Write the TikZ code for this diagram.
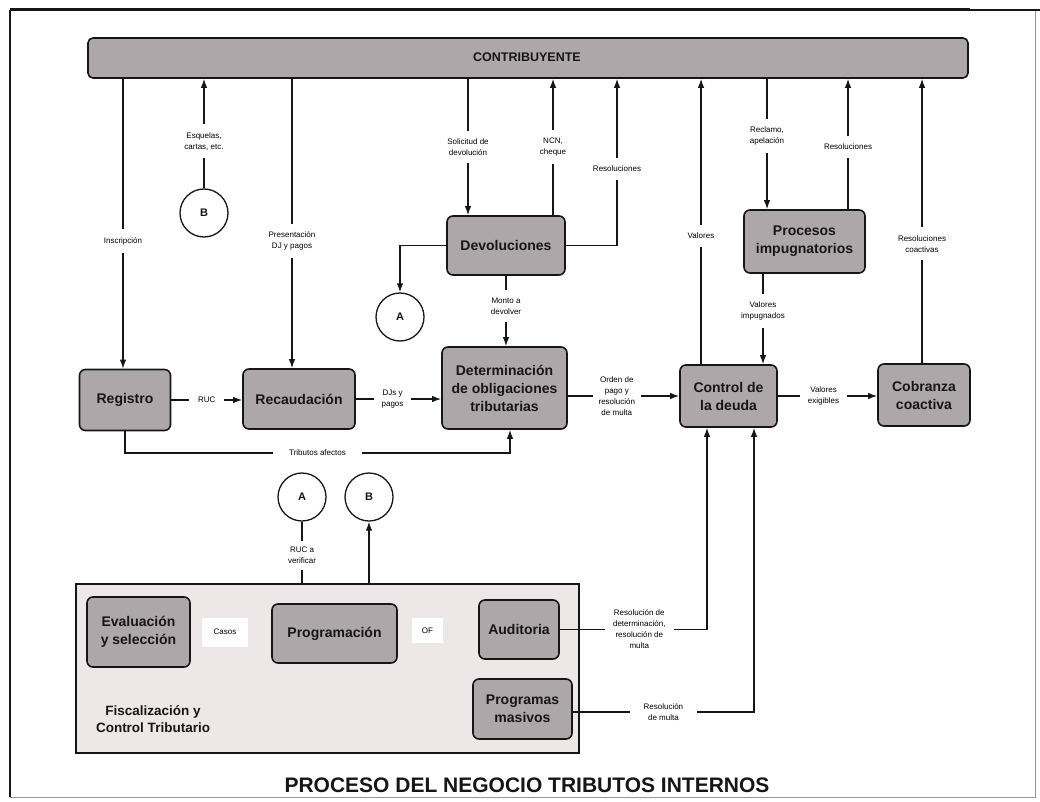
\documentclass[tikz,border=0pt]{standalone}
\usepackage{fontspec}
\setmainfont{Liberation Sans}
\usetikzlibrary{arrows.meta,calc}
\definecolor{boxgray}{RGB}{174,167,170}
\definecolor{fiscbg}{RGB}{238,231,232}
\definecolor{ink}{RGB}{22,22,22}
\definecolor{framegray}{RGB}{150,150,150}
\begin{document}
\begin{tikzpicture}[x=1pt,y=-1pt,
  box/.style={draw=ink, line width=1.6pt, rounded corners=6pt, fill=boxgray, inner sep=0pt, align=center, font=\fontsize{14}{18}\selectfont\bfseries, text=ink},
  conn/.style={draw=ink, line width=1.3pt},
  arr/.style={conn, -{Latex[length=9pt,width=6.5pt]}},
  lbl/.style={fill=white, inner xsep=1pt, inner ysep=8pt, align=center, font=\fontsize{8}{11}\selectfont, text=black},
  lblh/.style={fill=white, inner xsep=10pt, inner ysep=1pt, align=center, font=\fontsize{8}{11}\selectfont, text=black},
  circ/.style={circle, draw=ink, line width=1.3pt, minimum size=48pt, inner sep=0pt, font=\fontsize{11}{13}\selectfont\bfseries, fill=white, text=ink},
  tag/.style={fill=white, inner sep=0pt, font=\fontsize{8}{10}\selectfont, text=black},
]
\useasboundingbox (0,0) rectangle (1040,802);
% frame
\draw[framegray, line width=1pt] (1035,10) -- (1035,797) -- (10,797);
\draw[ink, line width=1.3pt] (10,10) -- (10,797);
\draw[ink, line width=3pt] (10,10) -- (970,10);
\draw[ink, line width=1.5pt] (970,10) -- (1040,10);

% contribuyente bar
\node[box, minimum width=880pt, minimum height=40pt, rounded corners=5pt] (bar) at (528,58) {};
\node[font=\fontsize{12.5}{14}\selectfont\bfseries, text=ink] (bartxt) at (527,57) {CONTRIBUYENTE};

% fiscalizacion container
\node[draw=ink, line width=1.3pt, fill=fiscbg, minimum width=503pt, minimum height=169pt, inner sep=0pt] (fisc) at (327.5,668.5) {};
\node[font=\fontsize{13.5}{17}\selectfont\bfseries, align=center, text=ink] (fisclbl) at (153,719) {Fiscalización y\\Control Tributario};

% main boxes
\node[box, minimum width=91pt, minimum height=61pt] (reg) at (125,400) {Registro};
\node[box, minimum width=112pt, minimum height=60pt] (rec) at (299,399) {Recaudación};
\node[box, minimum width=125pt, minimum height=82pt] (det) at (504.5,388) {Determinación\\de obligaciones\\tributarias};
\node[box, minimum width=118pt, minimum height=59pt] (dev) at (506,245.5) {Devoluciones};
\node[box, minimum width=97pt, minimum height=62pt] (ctl) at (728.5,396) {Control de\\la deuda};
\node[box, minimum width=92pt, minimum height=62pt] (cob) at (924,395) {Cobranza\\coactiva};
\node[box, minimum width=121pt, minimum height=63pt] (proc) at (804.5,241.5) {Procesos\\impugnatorios};

% fiscalizacion inner boxes
\node[box, minimum width=103pt, minimum height=70pt] (eva) at (138.5,632) {Evaluación\\y selección};
\node[box, minimum width=125pt, minimum height=59pt] (prog) at (334.5,633.5) {Programación};
\node[box, minimum width=80pt, minimum height=59pt] (aud) at (519,629.5) {Auditoria};
\node[box, minimum width=99pt, minimum height=60pt] (pm) at (522.5,709) {Programas\\masivos};
\node[tag, minimum width=46pt, minimum height=29pt] (casos) at (225,632) {Casos};
\node[tag, minimum width=31pt, minimum height=25pt] (of) at (427.5,630.5) {OF};

% connectors
\node[circ] (Bt) at (204,213) {B};
\node[circ] (At) at (400,317) {A};
\node[circ] (Ab) at (302,497) {A};
\node[circ] (Bb) at (369,497) {B};

% title
\node[font=\fontsize{21}{24}\selectfont\bfseries, text=ink] (title) at (527,785) {PROCESO DEL NEGOCIO TRIBUTOS INTERNOS};

% flows with contribuyente
\draw[arr] ([xshift=-2pt]reg.north |- bar.south) -- node[lbl,pos=0.56]{Inscripción} ([xshift=-2pt]reg.north);
\draw[arr] (Bt.north) -- node[lbl,pos=0.43]{Esquelas,\\cartas, etc.} (Bt.north |- bar.south);
\draw[arr] ([xshift=-7pt]rec.north |- bar.south) -- node[lbl,pos=0.56]{Presentación\\DJ y pagos} ([xshift=-7pt]rec.north);
\draw[arr] ([xshift=-38pt]dev.north |- bar.south) -- node[lbl,pos=0.5]{Solicitud de\\devolución} ([xshift=-38pt]dev.north);
\draw[arr] ([xshift=47pt]dev.north) -- node[lbl,pos=0.5]{NCN,\\cheque} ([xshift=47pt]dev.north |- bar.south);
\draw[arr] (dev.east) -| node[lbl,pos=0.73]{Resoluciones} (617,0 |- bar.south);
\draw[arr] (dev.west) -| (At.north);
\draw[arr] (dev.south) -- node[lbl,pos=0.43]{Monto a\\devolver} (dev.south |- det.north);
\draw[arr] ([xshift=-27.5pt]ctl.north) -- node[lbl,pos=0.45]{Valores} ([xshift=-27.5pt]ctl.north |- bar.south);
\draw[arr] ([xshift=-37.5pt]proc.north |- bar.south) -- node[lbl,pos=0.44]{Reclamo,\\apelación} ([xshift=-37.5pt]proc.north);
\draw[arr] ([xshift=43.5pt]proc.north) -- node[lbl,pos=0.48]{Resoluciones} ([xshift=43.5pt]proc.north |- bar.south);
\draw[arr] ([xshift=-41.5pt]proc.south) -- node[lbl,pos=0.41]{Valores\\impugnados} ([xshift=-41.5pt]proc.south |- ctl.north);
\draw[arr] ([xshift=-2pt]cob.north) -- node[lbl,pos=0.42]{Resoluciones\\coactivas} ([xshift=-2pt]cob.north |- bar.south);

% main row
\draw[arr] (reg.east) -- node[lblh,inner xsep=9pt]{RUC} (rec.west |- reg.east);
\draw[arr] (rec.east) -- node[lblh,pos=0.43,inner xsep=8pt]{DJs y\\pagos} (det.west |- rec.east);
\draw[arr] (reg.south) -- (reg.south |- 0,453) -| node[lblh,pos=0.25,inner xsep=16pt]{Tributos afectos} ([xshift=5.5pt]det.south);
\draw[arr] (det.east |- ctl.west) -- node[lblh,pos=0.44,inner xsep=6pt]{Orden de\\pago y\\resolución\\de multa} (ctl.west);
\draw[arr] (ctl.east) -- node[lblh,pos=0.46,inner xsep=8pt]{Valores\\exigibles} (cob.west |- ctl.east);

% fiscalizacion links
\draw[conn] (Ab.south |- fisc.north) -- node[lbl,pos=0.45,inner ysep=6pt]{RUC a\\verificar} (Ab.south);
\draw[arr] (Bb.south |- fisc.north) -- (Bb.south);
\draw[arr] (aud.east) -| node[lblh,pos=0.27,inner xsep=8pt]{Resolución de\\determinación,\\resolución de\\multa} ([xshift=-21.5pt]ctl.south);
\draw[arr] (pm.east |- 0,712) -| node[lblh,pos=0.25,inner xsep=14pt]{Resolución\\de multa} ([xshift=25.5pt]ctl.south);
\end{tikzpicture}
\end{document}
